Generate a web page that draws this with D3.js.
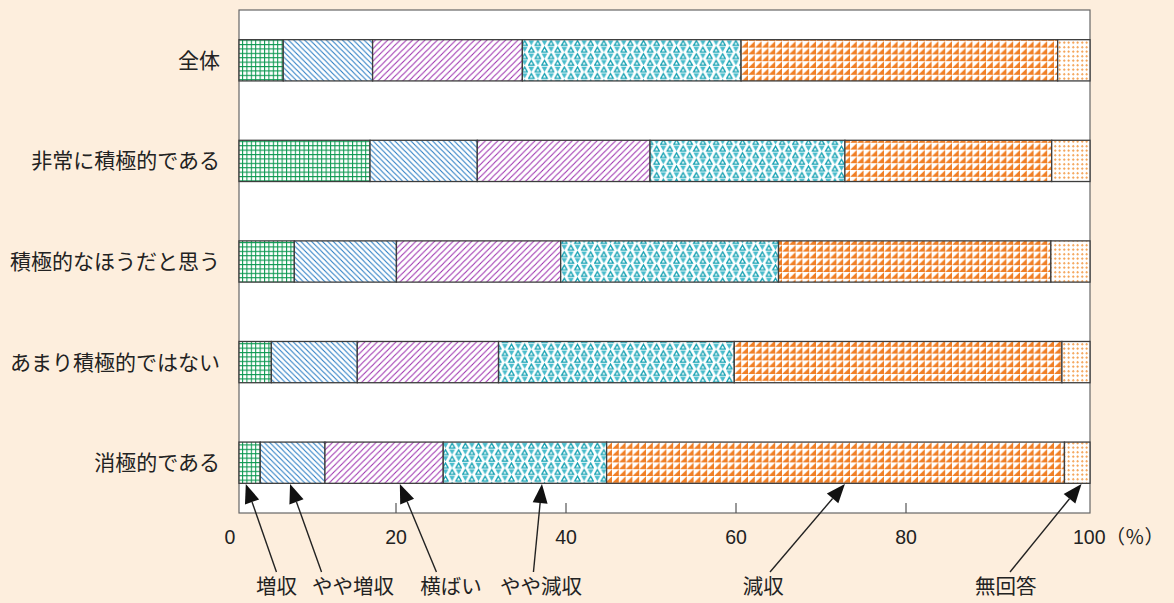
<!DOCTYPE html>
<html>
<head>
<meta charset="utf-8">
<script src="https://cdn.jsdelivr.net/npm/d3@7"></script>
<style>
  body { margin: 0; background: #fdeedd; }
  svg { display: block; }
  text { font-family: "Liberation Sans", "Noto Sans CJK JP", sans-serif; fill: #222; }
</style>
</head>
<body>
<div class="chart"></div>
<script>
'use strict'

// Data (percent)
const categories = ['全体', '非常に積極的である', '積極的なほうだと思う', 'あまり積極的ではない', '消極的である'];
const seriesNames = ['増収', 'やや増収', '横ばい', 'やや減収', '減収', '無回答'];
const zoushu     = [5.2, 15.4, 6.5, 3.8, 2.5];
const yayaZoushu = [10.5, 12.6, 12.0, 10.1, 7.6];
const yokobai    = [17.6, 20.3, 19.3, 16.6, 13.9];
const yayaGenshu = [25.7, 22.9, 25.6, 27.7, 19.2];
const genshu     = [37.2, 24.3, 32.0, 38.5, 53.8];
const mukaitou   = [3.8, 4.5, 4.6, 3.3, 3.0];
const tickValues = [0, 20, 40, 60, 80, 100];

// Callout labels under the chart (positions in % units)
const calloutLabelAt = [4.4, 13.4, 24.9, 35.5, 61.6, 90.1];
const calloutTailAt  = [4.4, 9.7, 23.2, 34.6, 62.4, 90.6];
const calloutTipAt   = [0.8, 6.0, 18.9, 35.6, 71.2, 99.0];

// Dimensions
const width = 1174, height = 603;
const plot = {left: 239, right: 1090, top: 10, bottom: 513};

const svg = d3.select('.chart').append('svg')
    .attr('width', width)
    .attr('height', height);

// Build table for stacking
const table = categories.map((c, i) => ({
    category: c,
    '増収': zoushu[i],
    'やや増収': yayaZoushu[i],
    '横ばい': yokobai[i],
    'やや減収': yayaGenshu[i],
    '減収': genshu[i],
    '無回答': mukaitou[i]
}));
const stacked = d3.stack().keys(seriesNames)(table);

// Scales
const x = d3.scaleLinear().domain([0, 100]).range([plot.left, plot.right]);
// tick marks in the original sit slightly left of the bar scale
const xTick = d3.scaleLinear().domain([0, 100]).range([226, 1076]);
const y = d3.scaleBand().domain(categories).range([plot.top, plot.bottom]).paddingInner(0.59).paddingOuter(0.295);

// Patterns
const defs = svg.append('defs');
function pattern(id, w, h) {
    const p = defs.append('pattern').attr('id', id)
        .attr('patternUnits', 'userSpaceOnUse')
        .attr('width', w).attr('height', h);
    p.append('rect').attr('width', w).attr('height', h).attr('fill', '#fff');
    return p;
}

// grid (green)
pattern('p0', 4.4, 4.4).append('path')
    .attr('d', 'M0,0.5H4.4M0.5,0V4.4')
    .attr('stroke', '#0b9850').attr('stroke-width', 1.1);

// back diagonal (blue)
pattern('p1', 5.4, 5.4).append('path')
    .attr('d', 'M0,0L5.4,5.4M-1,4.4L1,6.4M4.4,-1L6.4,1')
    .attr('stroke', '#2479c2').attr('stroke-width', 1.05);

// forward diagonal (purple)
pattern('p2', 6.2, 6.2).append('path')
    .attr('d', 'M0,6.2L6.2,0M-1,1L1,-1M5.2,7.2L7.2,5.2')
    .attr('stroke', '#9c2fae').attr('stroke-width', 1.05);

// triangles (cyan)
const p3 = pattern('p3', 13.2, 13.2);
p3.append('path').attr('d', 'M0.4,0.6L6.2,0.6L3.3,5.8Z').attr('fill', '#48bccc');
p3.append('path').attr('d', 'M9.9,1.1L12.6,5.8L7.2,5.8Z').attr('fill', 'none').attr('stroke', '#0f9fb1').attr('stroke-width', 1.3);
p3.append('path').attr('d', 'M3.3,7.7L6,12.4L0.6,12.4Z').attr('fill', 'none').attr('stroke', '#0f9fb1').attr('stroke-width', 1.3);
p3.append('path').attr('d', 'M7,7.2L12.8,7.2L9.9,12.4Z').attr('fill', '#48bccc');

// half-cells (orange)
pattern('p4', 6.8, 6.8).append('path')
    .attr('d', 'M6.8,0.2L6.8,6.8L0.2,6.8Z')
    .attr('fill', '#f07f26');

// small pluses (light orange)
pattern('p5', 4.5, 4.5).append('path')
    .attr('d', 'M1,2.2H3.4M2.2,1V3.4')
    .attr('stroke', '#f39a45').attr('stroke-width', 1);

// Plot area
svg.append('rect')
    .attr('x', plot.left).attr('y', plot.top)
    .attr('width', plot.right - plot.left)
    .attr('height', plot.bottom - plot.top)
    .attr('fill', '#fff')
    .attr('stroke', '#666')
    .attr('stroke-width', 1.2);

// Bars
svg.append('g')
  .selectAll('g')
  .data(stacked)
  .join('g')
    .attr('fill', (d, i) => `url(#p${i})`)
  .selectAll('rect')
  .data(d => d)
  .join('rect')
    .attr('x', d => x(d[0]))
    .attr('y', d => y(d.data.category))
    .attr('width', d => x(d[1]) - x(d[0]))
    .attr('height', y.bandwidth())
    .attr('stroke', '#3d3d3d')
    .attr('stroke-width', 1.3);

// Category labels
svg.append('g')
  .selectAll('text')
  .data(categories)
  .join('text')
    .attr('x', 220)
    .attr('y', d => y(d) + y.bandwidth() / 2)
    .attr('dy', '0.36em')
    .attr('text-anchor', 'end')
    .style('font-size', '21px')
    .text(d => d);

// Tick marks (inside plot, upward from bottom)
svg.append('g')
  .selectAll('line')
  .data(tickValues.filter(d => d > 0 && d < 100))
  .join('line')
    .attr('x1', d => xTick(d)).attr('x2', d => xTick(d))
    .attr('y1', plot.bottom - 10).attr('y2', plot.bottom)
    .attr('stroke', '#555').attr('stroke-width', 1.2);

// Tick labels
svg.append('g')
  .selectAll('text')
  .data(tickValues)
  .join('text')
    .attr('x', d => d === 100 ? xTick(d) - 3 : xTick(d) + (d === 0 ? 4 : 0))
    .attr('y', 537)
    .attr('dy', '0.36em')
    .attr('text-anchor', d => d === 100 ? 'start' : 'middle')
    .style('font-size', '19.5px')
    .text(d => d === 100 ? '100（％）' : d);

// Callout arrows
const arrows = svg.append('g');
seriesNames.forEach((name, i) => {
    const x0 = x(calloutTailAt[i]), y0 = 572;
    const x1 = x(calloutTipAt[i]), y1 = 484;
    const dx = x1 - x0, dy = y1 - y0, len = Math.hypot(dx, dy);
    const ux = dx / len, uy = dy / len;
    const headLen = 19, halfW = 7.5;
    const bx = x1 - ux * headLen, by = y1 - uy * headLen;

    arrows.append('line')
        .attr('x1', x0).attr('y1', y0)
        .attr('x2', bx).attr('y2', by)
        .attr('stroke', '#222').attr('stroke-width', 1.4);

    arrows.append('path')
        .attr('d', `M${x1},${y1}L${bx - uy * halfW},${by + ux * halfW}L${bx + uy * halfW},${by - ux * halfW}Z`)
        .attr('fill', '#111');

    arrows.append('text')
        .attr('x', x(calloutLabelAt[i]))
        .attr('y', 587)
        .attr('dy', '0.36em')
        .attr('text-anchor', 'middle')
        .style('font-size', '20.5px')
        .text(name);
});
</script>
</body>
</html>
